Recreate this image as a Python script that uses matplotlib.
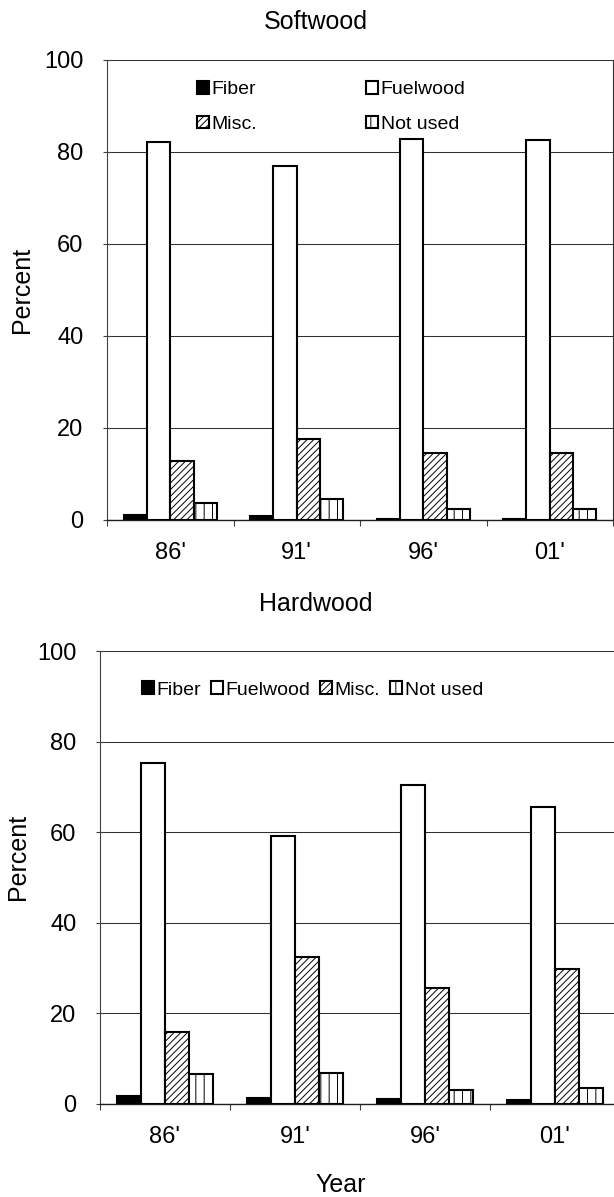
import numpy as np
import matplotlib
matplotlib.use('Agg')
import matplotlib.pyplot as plt

plt.rcParams['font.family'] = ['Liberation Sans', 'DejaVu Sans']
plt.rcParams['hatch.linewidth'] = 0.7

years = ["86'", "91'", "96'", "01'"]
uses = ['Fiber', 'Fuelwood', 'Misc.', 'Not used']

# softwood percentages per use
soft_fiber = [1.0, 0.8, 0.2, 0.3]
soft_fuel = [82.2, 76.9, 82.8, 82.7]
soft_misc = [12.8, 17.6, 14.5, 14.5]
soft_notused = [3.8, 4.5, 2.4, 2.4]

# hardwood percentages per use
hard_fiber = [1.8, 1.4, 1.0, 0.8]
hard_fuel = [75.3, 59.1, 70.4, 65.6]
hard_misc = [16.0, 32.5, 25.5, 29.8]
hard_notused = [6.7, 6.8, 3.0, 3.6]

styles = [dict(color='black', hatch=None),
          dict(color='white', hatch=None),
          dict(color='white', hatch='/////'),
          dict(color='white', hatch='||')]

fig = plt.figure(figsize=(6.14, 11.97), dpi=100)
W, H = 614.0, 1197.0

def px_axes(left, right, top, bottom):
    return fig.add_axes([left / W, 1 - bottom / H, (right - left) / W, (bottom - top) / H])

def draw_panel(ax, series, right_spine):
    x = np.arange(len(years))
    w = 0.184
    bars = []
    for i, vals in enumerate(series):
        b = ax.bar(x + (i - 1.5) * w, vals, w, color=styles[i]['color'],
                   hatch=styles[i]['hatch'], edgecolor='black', linewidth=1.5,
                   label=uses[i], zorder=3)
        bars.append(b)
    ax.set_xlim(-0.5, 3.5)
    ax.set_ylim(0, 100)
    ax.set_yticks(range(0, 101, 20))
    ax.yaxis.grid(True, color='#303030', linewidth=0.75)
    ax.set_axisbelow(True)
    ax.set_xticks(x)
    ax.set_xticklabels(years)
    ax.set_xticks(np.arange(-0.5, 3.6, 1.0), minor=True)
    ax.tick_params(axis='x', which='major', length=0, pad=16, labelsize=17)
    ax.tick_params(axis='x', which='minor', length=4.3, width=0.8, direction='out', color='#404040')
    ax.tick_params(axis='y', length=6, width=0.8, direction='inout', pad=14, labelsize=17, color='#404040')
    ax.spines['top'].set_visible(False)
    ax.spines['right'].set_visible(right_spine)
    ax.spines['right'].set_color('#303030')
    ax.spines['left'].set_color('#404040')
    ax.spines['bottom'].set_color('#202020')
    ax.spines['bottom'].set_linewidth(1.0)
    return bars

# Softwood panel
ax1 = px_axes(107, 613, 60, 520)
b1 = draw_panel(ax1, [soft_fiber, soft_fuel, soft_misc, soft_notused], True)
ax1.legend([b1[0], b1[2], b1[1], b1[3]], [uses[0], uses[2], uses[1], uses[3]],
           ncol=2, frameon=False, loc='center left',
           bbox_to_anchor=(197 / W, 1 - 107 / H), bbox_transform=fig.transFigure,
           fontsize=14, handlelength=0.6, handleheight=0.6, handletextpad=0.15,
           columnspacing=5.6, labelspacing=0.9, borderpad=0, borderaxespad=0)
fig.text(316 / W, 1 - 29 / H, 'Softwood', ha='center', va='baseline', fontsize=18)
fig.text(22 / W, 1 - 290 / H, 'Percent', ha='center', va='center', rotation=90, fontsize=18)

# Hardwood panel
ax2 = px_axes(100, 620, 651, 1104)
b2 = draw_panel(ax2, [hard_fiber, hard_fuel, hard_misc, hard_notused], False)
ax2.legend(b2, uses, ncol=4, frameon=False, loc='center left',
           bbox_to_anchor=(142 / W, 1 - 690 / H), bbox_transform=fig.transFigure,
           fontsize=14, handlelength=0.6, handleheight=0.6, handletextpad=0.15,
           columnspacing=0.5, borderpad=0, borderaxespad=0)
fig.text(316 / W, 1 - 611 / H, 'Hardwood', ha='center', va='baseline', fontsize=18)
fig.text(18 / W, 1 - 857 / H, 'Percent', ha='center', va='center', rotation=90, fontsize=18)
fig.text(341 / W, 1 - 1192 / H, 'Year', ha='center', va='baseline', fontsize=18)

fig.savefig('out.png', dpi=100)
